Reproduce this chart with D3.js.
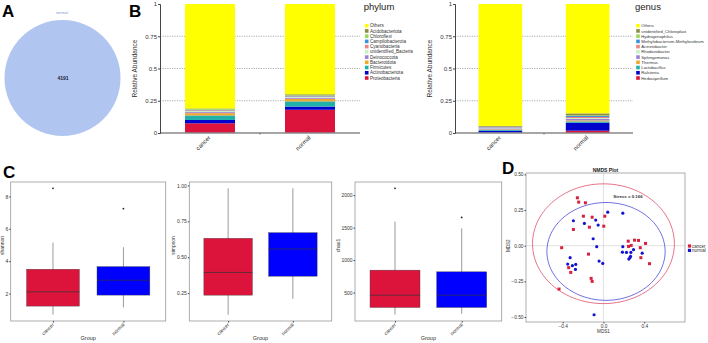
<!DOCTYPE html>
<html>
<head>
<meta charset="utf-8">
<script src="https://cdn.jsdelivr.net/npm/d3@7"></script>
<style>
  body { margin: 0; background: #fff; }
  svg { display: block; font-family: "Liberation Sans", Arial, sans-serif; }
</style>
</head>
<body>
<svg id="svg" width="708" height="343"></svg>
<script>
/* DATA */

const groups = ["cancer", "normal"];

// venn (panel A)
const vennLabel = "normal";
const vennCount = 4191;

// stacked abundance (panel B), legend order = top of stack first
const phylumNames = ["Others", "Acidobacteriota", "Chloroflexi", "Campilobacterota", "Cyanobacteria",
  "unidentified_Bacteria", "Deinococcota", "Bacteroidota", "Firmicutes", "Actinobacteriota", "Proteobacteria"];
const phylumCancer = [0.81, 0.004, 0.006, 0.004, 0.006, 0.008, 0.008, 0.018, 0.035, 0.026, 0.075];
const phylumNormal = [0.70, 0.008, 0.004, 0.004, 0.005, 0.006, 0.008, 0.02, 0.04, 0.025, 0.18];

const genusNames = ["Others", "unidentified_Chloroplast", "Hydrogenophilus", "Methylobacterium-Methylorubrum",
  "Acinetobacter", "Rhodanobacter", "Sphingomonas", "Thermus", "Lactobacillus", "Ralstonia", "Herbaspirillum"];
const genusCancer = [0.945, 0.006, 0.002, 0.003, 0.004, 0.004, 0.008, 0.004, 0.006, 0.015, 0.003];
const genusNormal = [0.848, 0.015, 0.005, 0.008, 0.008, 0.006, 0.012, 0.008, 0.01, 0.062, 0.018];

const stackColors = ["#ffff00", "#8b8b45", "#9ad85a", "#3d8fe0", "#ee8585", "#c8efc8",
  "#9d80d4", "#f0a830", "#20b2aa", "#0000cd", "#dc143c"];
const abundanceTicks = [0, 0.25, 0.5, 0.75, 1];

// alpha diversity (panel C): [lower whisker, q1, median, q3, upper whisker]
const shannonCancer = [0.69, 1.22, 2.1, 3.5, 5.14];
const shannonNormal = [1.14, 1.9, 2.82, 3.66, 4.86];
const shannonOutliers = [[8.5], [7.24]];
const shannonTicks = [2, 4, 6, 8];

const simpsonCancer = [0.10, 0.236, 0.394, 0.632, 0.98];
const simpsonNormal = [0.21, 0.368, 0.558, 0.671, 0.98];
const simpsonOutliers = [[], []];
const simpsonTicks = [0.25, 0.5, 0.75, 1];

const chaoCancer = [160, 271, 460, 846, 1593];
const chaoNormal = [175, 271, 460, 820, 1490];
const chaoOutliers = [[2106], [1658]];
const chaoTicks = [500, 1000, 1500, 2000];

// NMDS (panel D)
const cancerMDS1 = [-0.256, -0.243, -0.177, -0.197, -0.111, 0.013, -0.138, 0.003, -0.295, -0.41, -0.147, -0.341, -0.321,
  -0.121, -0.111, -0.436, 0.243, 0.305, 0.344, 0.413, 0.272, 0.246, 0.361, 0.367, 0.452];
const cancerMDS2 = [0.336, 0.306, 0.301, 0.207, 0.20, 0.207, 0.13, 0.137, 0.114, -0.014, -0.059, -0.154, -0.187,
  -0.229, -0.25, -0.304, 0.032, 0.039, 0.037, 0.016, 0.002, -0.005, -0.014, -0.084, -0.126];
const normalMDS1 = [0.042, 0.19, -0.295, -0.187, -0.076, -0.052, -0.101, -0.066, -0.327, -0.351, -0.305, -0.272, -0.275,
  -0.043, -0.007, -0.092, 0.19, 0.226, 0.269, 0.295, 0.186, 0.249, 0.266, 0.259, 0.38];
const normalMDS2 = [0.235, 0.228, 0.175, 0.156, 0.18, 0.145, 0.049, -0.007, -0.084, -0.129, -0.14, -0.131, -0.166,
  -0.108, -0.124, -0.484, -0.007, -0.047, -0.047, -0.028, -0.045, -0.094, -0.075, -0.084, -0.052];
const ellipseCx = [0, 0.025];
const ellipseCy = [0.014, -0.04];
const ellipseRx = [0.696, 0.58];
const ellipseRy = [0.42, 0.343];
const stressText = "Stress = 0.166";
const mdsXTicks = [-0.4, 0, 0.4];
const mdsYTicks = [-0.5, -0.25, 0, 0.25, 0.5];

/* HELPERS */

const svg = d3.select("#svg");

function panelLetter(txt, x, y) {
  svg.append("text").attr("x", x).attr("y", y)
    .style("font-size", "17px").style("font-weight", "bold").text(txt);
}

function styleAxis(ax, size) {
  ax.selectAll("text").style("font-size", size + "px").attr("fill", "#333");
  ax.selectAll("line").attr("stroke", "#444");
  ax.select(".domain").attr("stroke", "#444");
}

// stacked bar chart
function drawStack(names, cancerVals, normalVals, opt) {
  const g = svg.append("g");
  const rows = groups.map((grp, i) => {
    let row = { group: grp };
    let vals = i === 0 ? cancerVals : normalVals;
    names.forEach((n, j) => row[n] = vals[j]);
    return row;
  });
  const keys = names.slice().reverse();
  const series = d3.stack().keys(keys)(rows);

  const x = d3.scaleBand().domain(groups).range([opt.x0, opt.x1])
              .paddingInner(0.5).paddingOuter(opt.outer);
  const y = d3.scaleLinear().domain([0, 1]).range([133, 4]);
  const color = d3.scaleOrdinal().domain(names).range(stackColors);

  // dotted grid
  g.selectAll(".grid").data([0.25, 0.5, 0.75]).enter().append("line")
    .attr("x1", opt.x0).attr("x2", opt.x1)
    .attr("y1", d => y(d)).attr("y2", d => y(d))
    .attr("stroke", "#888").attr("stroke-width", 0.7).attr("stroke-dasharray", "1.2,1.2");

  g.selectAll(".layer").data(series).enter().append("g")
    .attr("fill", d => color(d.key))
    .selectAll("rect").data(d => d).enter().append("rect")
    .attr("x", d => x(d.data.group))
    .attr("width", x.bandwidth())
    .attr("y", d => y(d[1]))
    .attr("height", d => y(d[0]) - y(d[1]));

  // x axis line + middle tick
  g.append("line").attr("x1", opt.x0).attr("x2", opt.x1).attr("y1", y(0)).attr("y2", y(0))
    .attr("stroke", "#888").attr("stroke-width", 1.5);
  let mid = (x("cancer") + x("normal") + x.bandwidth()) / 2;
  g.append("line").attr("x1", mid).attr("x2", mid).attr("y1", y(0)).attr("y2", y(0) + 1.5)
    .attr("stroke", "#666");

  let ay = g.append("g").attr("transform", `translate(${opt.x0},0)`)
    .call(d3.axisLeft(y).tickValues(abundanceTicks).tickFormat(d3.format("")).tickSize(2).tickPadding(1));
  styleAxis(ay, 6);

  g.selectAll(".xl").data(groups).enter().append("text")
    .attr("transform", d => `translate(${x(d) + x.bandwidth() / 2 + 1},${y(0) + 5}) rotate(-45)`)
    .attr("text-anchor", "end").style("font-size", "6px").attr("fill", "#333").text(d => d);

  g.append("text")
    .attr("transform", `translate(${opt.x0 - 23},${y(0.5)}) rotate(-90)`)
    .attr("text-anchor", "middle").style("font-size", "6.5px").attr("fill", "#333")
    .text("Relative Abundance");

  // legend
  g.append("text").attr("x", opt.lx - 3).attr("y", 10)
    .style("font-size", "9.5px").attr("fill", "#222").text(opt.title);
  let lg = g.selectAll(".lg").data(names).enter().append("g")
    .attr("transform", (d, i) => `translate(${opt.lx},${25.7 + i * 5.23})`);
  lg.append("rect").attr("x", -1.8).attr("y", -1.8).attr("width", 3.6).attr("height", 3.6)
    .attr("fill", d => color(d));
  lg.append("text").attr("x", 3.3).attr("y", 1.6).style("font-size", opt.lfont + "px")
    .attr("fill", "#333").text(d => d);
}

// boxplot (ggplot-like)
function drawBox(frame, cancerStats, normalStats, outliers, ticks, fmt, title) {
  const g = svg.append("g");
  const all = cancerStats.concat(normalStats, outliers[0], outliers[1]);
  const ext = d3.extent(all);
  const pad = (ext[1] - ext[0]) * 0.05;
  const y = d3.scaleLinear().domain([ext[0] - pad, ext[1] + pad]).range([frame.y1, frame.y0]);
  const x = d3.scalePoint().domain(groups).range([frame.x0, frame.x1]).padding(0.6);
  const bw = x.step() * 0.75;
  const fills = ["#dc143c", "#0000ff"];
  const stats = [cancerStats, normalStats];

  g.append("rect").attr("x", frame.x0).attr("y", frame.y0)
    .attr("width", frame.x1 - frame.x0).attr("height", frame.y1 - frame.y0)
    .attr("fill", "#fff").attr("stroke", "#999").attr("stroke-width", 0.8);

  groups.forEach((grp, i) => {
    let s = stats[i], cx = x(grp);
    g.append("line").attr("x1", cx).attr("x2", cx).attr("y1", y(s[0])).attr("y2", y(s[4]))
      .attr("stroke", "#555").attr("stroke-width", 0.6);
    g.append("rect").attr("x", cx - bw / 2).attr("width", bw)
      .attr("y", y(s[3])).attr("height", y(s[1]) - y(s[3]))
      .attr("fill", fills[i]).attr("stroke", "#444").attr("stroke-width", 0.4);
    g.append("line").attr("x1", cx - bw / 2).attr("x2", cx + bw / 2).attr("y1", y(s[2])).attr("y2", y(s[2]))
      .attr("stroke", "#333").attr("stroke-width", 0.7);
    g.selectAll(".o" + i).data(outliers[i]).enter().append("circle")
      .attr("cx", cx).attr("cy", d => y(d)).attr("r", 0.9).attr("fill", "#222");
  });

  let ay = g.append("g").attr("transform", `translate(${frame.x0},0)`)
    .call(d3.axisLeft(y).tickValues(ticks).tickFormat(d3.format(fmt)).tickSize(1.5).tickPadding(1));
  styleAxis(ay, 5);
  ay.select(".domain").remove();
  let ax = g.append("g").attr("transform", `translate(0,${frame.y1})`)
    .call(d3.axisBottom(x).tickSize(1.5).tickFormat(""));
  styleAxis(ax, 5);
  ax.select(".domain").remove();

  g.selectAll(".xl").data(groups).enter().append("text")
    .attr("transform", d => `translate(${x(d) + 1.5},${frame.y1 + 4}) rotate(-45)`)
    .attr("text-anchor", "end").style("font-size", "5px").attr("fill", "#333").text(d => d);
  g.append("text").attr("x", (frame.x0 + frame.x1) / 2).attr("y", frame.y1 + 18.5)
    .attr("text-anchor", "middle").style("font-size", "5.5px").attr("fill", "#333").text("Group");
  g.append("text")
    .attr("transform", `translate(${frame.tx},${(frame.y0 + frame.y1) / 2 - 6}) rotate(-90)`)
    .attr("text-anchor", "middle").style("font-size", "5px").attr("fill", "#333").text(title);
}

/* PANEL A */

svg.append("circle").attr("cx", 62.5).attr("cy", 78).attr("r", 58).attr("fill", "#b0c6f0");
svg.append("text").attr("x", 62).attr("y", 13.5).attr("text-anchor", "middle")
  .style("font-size", "4px").attr("fill", "#7f9fd0").text(vennLabel);
svg.append("text").attr("x", 63).attr("y", 80).attr("text-anchor", "middle")
  .style("font-size", "5px").style("font-weight", "bold").attr("fill", "#223").text(vennCount);
panelLetter("A", 2, 17);

/* PANEL B */

panelLetter("B", 129, 17);
drawStack(phylumNames, phylumCancer, phylumNormal,
  { x0: 160, x1: 360, outer: 0.25, lx: 366.7, title: "phylum", lfont: 4.6 });
drawStack(genusNames, genusCancer, genusNormal,
  { x0: 455, x1: 633, outer: 0.27, lx: 638, title: "genus", lfont: 4.2 });

/* PANEL C */

panelLetter("C", 3, 178);
drawBox({ x0: 10.7, x1: 165.7, y0: 182, y1: 321, tx: 3.5 },
  shannonCancer, shannonNormal, shannonOutliers, shannonTicks, "d", "shannon");
drawBox({ x0: 189.3, x1: 331.7, y0: 182, y1: 321, tx: 175 },
  simpsonCancer, simpsonNormal, simpsonOutliers, simpsonTicks, ".2f", "simpson");
drawBox({ x0: 355, x1: 501.7, y0: 182, y1: 321, tx: 340 },
  chaoCancer, chaoNormal, chaoOutliers, chaoTicks, "d", "chao1");

/* PANEL D */

panelLetter("D", 502, 174);
(function () {
  const g = svg.append("g");
  const fr = { x0: 526, x1: 685, y0: 173, y1: 322 };
  const x = d3.scaleLinear().domain([-0.76, 0.80]).range([fr.x0, fr.x1]);
  const y = d3.scaleLinear().domain([-0.535, 0.51]).range([fr.y1, fr.y0]);

  g.append("rect").attr("x", fr.x0).attr("y", fr.y0).attr("width", fr.x1 - fr.x0).attr("height", fr.y1 - fr.y0)
    .attr("fill", "#fff").attr("stroke", "#999").attr("stroke-width", 0.8);
  g.append("line").attr("x1", x(0)).attr("x2", x(0)).attr("y1", fr.y0).attr("y2", fr.y1)
    .attr("stroke", "#ccc").attr("stroke-width", 0.6);
  g.append("line").attr("x1", fr.x0).attr("x2", fr.x1).attr("y1", y(0)).attr("y2", y(0))
    .attr("stroke", "#ccc").attr("stroke-width", 0.6);

  const ellColors = ["#e0506a", "#4a4ad8"];
  const line = d3.line().x(d => x(d[0])).y(d => y(d[1]));
  ellipseCx.forEach((cx, i) => {
    let pts = d3.range(0, 101).map(k => {
      let t = k / 100 * 2 * Math.PI;
      return [cx + ellipseRx[i] * Math.cos(t), ellipseCy[i] + ellipseRy[i] * Math.sin(t)];
    });
    g.append("path").attr("d", line(pts)).attr("fill", "none")
      .attr("stroke", ellColors[i]).attr("stroke-width", 0.8);
  });

  g.selectAll(".cp").data(cancerMDS1).enter().append("rect")
    .attr("x", (d, i) => x(d) - 1.5).attr("y", (d, i) => y(cancerMDS2[i]) - 1.5)
    .attr("width", 3).attr("height", 3).attr("fill", "#d8203c");
  g.selectAll(".np").data(normalMDS1).enter().append("circle")
    .attr("cx", d => x(d)).attr("cy", (d, i) => y(normalMDS2[i])).attr("r", 1.6).attr("fill", "#1414d0");

  let ax = g.append("g").attr("transform", `translate(0,${fr.y1})`)
    .call(d3.axisBottom(x).tickValues(mdsXTicks).tickFormat(d3.format(".1f")).tickSize(1.5).tickPadding(1));
  styleAxis(ax, 4.8);
  ax.select(".domain").remove();
  let ay = g.append("g").attr("transform", `translate(${fr.x0},0)`)
    .call(d3.axisLeft(y).tickValues(mdsYTicks).tickFormat(d3.format(".2f")).tickSize(1.5).tickPadding(1));
  styleAxis(ay, 4.8);
  ay.select(".domain").remove();

  g.append("text").attr("x", (fr.x0 + fr.x1) / 2).attr("y", fr.y0 - 1.5).attr("text-anchor", "middle")
    .style("font-size", "5px").style("font-weight", "bold").attr("fill", "#222").text("NMDS Plot");
  g.append("text").attr("x", x(0)).attr("y", fr.y1 + 11).attr("text-anchor", "middle")
    .style("font-size", "4.6px").attr("fill", "#333").text("MDS1");
  g.append("text").attr("transform", `translate(510,${y(0)}) rotate(-90)`).attr("text-anchor", "middle")
    .style("font-size", "4.6px").attr("fill", "#333").text("MDS2");
  g.append("text").attr("x", 628).attr("y", 198).attr("text-anchor", "middle")
    .style("font-size", "4.4px").style("font-weight", "bold").attr("fill", "#333").text(stressText);

  let lg = g.selectAll(".lg").data(groups).enter().append("g")
    .attr("transform", (d, i) => `translate(689.5,${246 + i * 4.4})`);
  lg.append("rect").attr("x", -1.6).attr("y", -1.6).attr("width", 3.2).attr("height", 3.2)
    .attr("fill", (d, i) => ["#d8203c", "#1414d0"][i]);
  lg.append("text").attr("x", 2.5).attr("y", 1.6).style("font-size", "4.5px").attr("fill", "#333").text(d => d);
})();
</script>
</body>
</html>
